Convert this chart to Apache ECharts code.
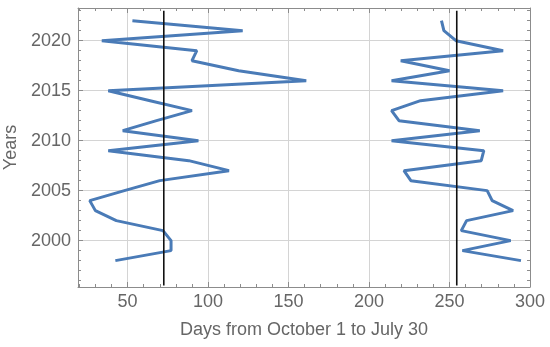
<!DOCTYPE html>
<html>
<head>
<meta charset="utf-8">
<script src="https://cdn.jsdelivr.net/npm/echarts@6/dist/echarts.min.js"></script>
<style>html,body{margin:0;padding:0;background:#fff}#c{width:550px;height:347px}</style>
</head>
<body>
<div id="c"></div>
<script>
const years = [1998,1999,2000,2001,2002,2003,2004,2005,2006,2007,2008,2009,2010,2011,2012,2013,2014,2015,2016,2017,2018,2019,2020,2021,2022];
const firstDays = [42.4,77,77,72,43,30,26.5,48,70,113,88,38,94,47,68,90,64,38,161,119,90,93,34,121.5,53];
const lastDays = [294.4,258,288,257.3,260.6,289.5,276.5,273.4,226,221.7,269.7,271.3,214,268.8,218.6,214,232,283.3,214,250,219.7,283.3,254,246.5,245];
const refLines = [72.5, 254.5];
const xTicks = [50,100,150,200,250,300];
const xMinor = [20,30,40,60,70,80,90,110,120,130,140,160,170,180,190,210,220,230,240,260,270,280,290];
const yTicks = [2000,2005,2010,2015,2020];
const yMinor = [1996,1997,1998,1999,2001,2002,2003,2004,2006,2007,2008,2009,2011,2012,2013,2014,2016,2017,2018,2019,2021,2022,2023];
const xRange = [19.2, 300];
const yRange = [1995.36, 2023.27];
const xTitle = 'Days from October 1 to July 30';
const yTitle = 'Years';

const axisCol = '#8c8c8c';
const gridCol = '#d4d4d4';
const textCol = '#666666';
const font = 'Liberation Sans';
const fs = 18;

function mkX(pos, major, labels, name) {
  return {
    type: 'value', position: pos, min: xRange[0], max: xRange[1],
    name: name || '', nameLocation: 'middle', nameGap: 34,
    nameTextStyle: {color: textCol, fontSize: fs, fontFamily: font},
    axisLine: {show: major, onZero: false, lineStyle: {color: axisCol, width: 1}},
    axisTick: {show: true, inside: true, length: major ? 5 : 3, customValues: major ? xTicks : xMinor, lineStyle: {color: axisCol}},
    axisLabel: {show: labels, customValues: xTicks, color: textCol, fontSize: fs, fontFamily: font, margin: 6},
    splitLine: {show: major && pos === 'bottom', lineStyle: {color: gridCol, width: 1}},
    minorTick: {show: false}
  };
}
function mkY(pos, major, labels, name) {
  return {
    type: 'value', position: pos, min: yRange[0], max: yRange[1],
    name: name || '', nameLocation: 'middle', nameGap: 51, nameRotate: 90,
    nameTextStyle: {color: textCol, fontSize: fs, fontFamily: font},
    axisLine: {show: major, onZero: false, lineStyle: {color: axisCol, width: 1}},
    axisTick: {show: true, inside: true, length: major ? 5 : 3, customValues: major ? yTicks : yMinor, lineStyle: {color: axisCol}},
    axisLabel: {show: labels, customValues: yTicks, color: textCol, fontSize: fs, fontFamily: font, margin: 7, formatter: v => String(v)},
    splitLine: {show: major && pos === 'left', lineStyle: {color: gridCol, width: 1}},
    minorTick: {show: false}
  };
}

const chart = echarts.init(document.getElementById('c'), null, {renderer: 'canvas'});
const lineStyle = {color: '#4a7bb7', width: 3};
chart.setOption({
  animation: false,
  grid: {left: 78, right: 20, top: 8, bottom: 60, containLabel: false, outerBoundsMode: 'none'},
  xAxis: [mkX('bottom', true, true, xTitle), mkX('bottom', false, false), mkX('top', true, false), mkX('top', false, false)],
  yAxis: [mkY('left', true, true, yTitle), mkY('left', false, false), mkY('right', true, false), mkY('right', false, false)],
  series: [
    {type: 'line', data: years.map((y, i) => [firstDays[i], y]), showSymbol: false, lineStyle: lineStyle, z: 3},
    {type: 'line', data: years.map((y, i) => [lastDays[i], y]), showSymbol: false, lineStyle: lineStyle, z: 3},
    ...refLines.map(x => ({type: 'line', data: [[x, 1995.5], [x, 2023]], showSymbol: false, lineStyle: {color: '#111', width: 1.6}, z: 4}))
  ]
});
</script>
</body>
</html>
